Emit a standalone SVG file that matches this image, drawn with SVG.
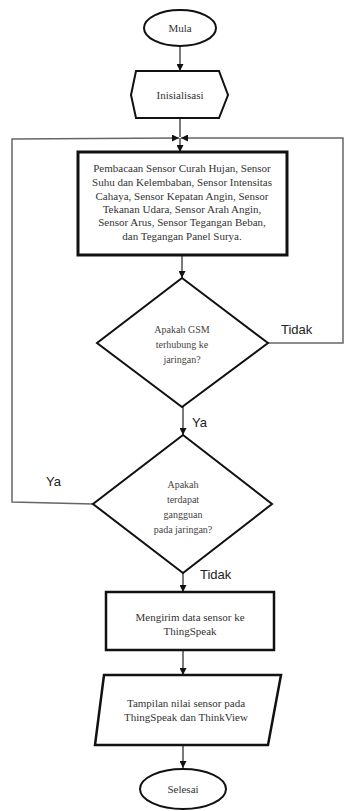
<svg xmlns="http://www.w3.org/2000/svg" width="344" height="811" viewBox="0 0 344 811">
<defs>
<marker id="arr" viewBox="0 0 10 10" refX="10" refY="5" markerWidth="7" markerHeight="7" markerUnits="userSpaceOnUse" orient="auto">
<path d="M0,0 L10,5 L0,10 z" fill="#111"/>
</marker>
<style>
.shape{fill:#fff;stroke:#111;stroke-width:2}
.thick{fill:#fff;stroke:#111;stroke-width:3}
.conn{fill:none;stroke:#222;stroke-width:1.2}
.loop{fill:none;stroke:#666;stroke-width:1.5}
.t{font-family:"Liberation Serif","Times New Roman",serif;font-size:11px;fill:#333;text-anchor:middle;dominant-baseline:central}
.ts{font-family:"Liberation Serif","Times New Roman",serif;font-size:10px;fill:#444;text-anchor:middle;dominant-baseline:central}
.lbl{font-family:"Liberation Sans",Arial,sans-serif;font-size:13px;fill:#222}
</style>
</defs>
<rect width="344" height="811" fill="#fff"/>
<g id="connectors">
<line class="conn" x1="180" y1="47" x2="180" y2="71" marker-end="url(#arr)"/>
<line class="conn" x1="180" y1="118" x2="180" y2="137"/>
<line class="conn" x1="180" y1="138" x2="180" y2="152" marker-end="url(#arr)"/>
<polyline class="loop" points="93,504 12,502 12,139 179,138" marker-end="url(#arr)"/>
<polyline class="loop" points="268,343 343,343 343,138 181,138" marker-end="url(#arr)"/>
<line class="conn" x1="182" y1="255" x2="182" y2="278" marker-end="url(#arr)"/>
<line class="conn" x1="183" y1="407" x2="183" y2="435" marker-end="url(#arr)"/>
<line class="conn" x1="183" y1="573" x2="183" y2="592" marker-end="url(#arr)"/>
<line class="conn" x1="183" y1="651" x2="183" y2="675" marker-end="url(#arr)"/>
<line class="conn" x1="183" y1="745" x2="183" y2="768" marker-end="url(#arr)"/>
<text class="lbl" x="281" y="334">Tidak</text>
<text class="lbl" x="192" y="427">Ya</text>
<text class="lbl" x="46" y="486">Ya</text>
<text class="lbl" x="200" y="579">Tidak</text>
</g>
<g id="mula">
<ellipse class="shape" cx="180" cy="28" rx="36" ry="18"/>
<text class="t" x="180" y="28">Mula</text>
</g>
<g id="inisialisasi">
<polygon class="shape" points="131,95 136,71 219,71 228,95 219,118 136,118"/>
<text class="t" x="180" y="95">Inisialisasi</text>
</g>
<g id="pembacaan">
<rect class="thick" x="78" y="152" width="209" height="103"/>
<text class="t" x="182" y="168">Pembacaan Sensor Curah Hujan, Sensor</text>
<text class="t" x="182" y="182">Suhu dan Kelembaban, Sensor Intensitas</text>
<text class="t" x="182" y="196">Cahaya, Sensor Kepatan Angin, Sensor</text>
<text class="t" x="182" y="209">Tekanan Udara, Sensor Arah Angin,</text>
<text class="t" x="182" y="222">Sensor Arus, Sensor Tegangan Beban,</text>
<text class="t" x="182" y="236">dan Tegangan Panel Surya.</text>
</g>
<g id="gsm">
<polygon class="shape" points="182,278 268,343 182,407 97,343"/>
<text class="ts" x="182" y="329">Apakah GSM</text>
<text class="ts" x="182" y="344">terhubung ke</text>
<text class="ts" x="182" y="359">jaringan?</text>
</g>
<g id="gangguan">
<polygon class="shape" points="183,435 272,504 183,573 93,504"/>
<text class="ts" x="183" y="484">Apakah</text>
<text class="ts" x="183" y="499">terdapat</text>
<text class="ts" x="183" y="514">gangguan</text>
<text class="ts" x="183" y="529">pada jaringan?</text>
</g>
<g id="mengirim">
<rect class="shape" x="106" y="592" width="168" height="58" style="stroke-width:2.5"/>
<text class="t" x="190" y="617">Mengirim data sensor ke</text>
<text class="t" x="190" y="631">ThingSpeak</text>
</g>
<g id="tampilan">
<polygon class="shape" points="104,675 281,675 268,745 95,745" style="stroke-width:2.5"/>
<text class="t" x="186" y="703">Tampilan nilai sensor pada</text>
<text class="t" x="186" y="717">ThingSpeak dan ThinkView</text>
</g>
<g id="selesai">
<ellipse class="shape" cx="183" cy="789" rx="43" ry="20"/>
<text class="t" x="183" y="789">Selesai</text>
</g>
</svg>
